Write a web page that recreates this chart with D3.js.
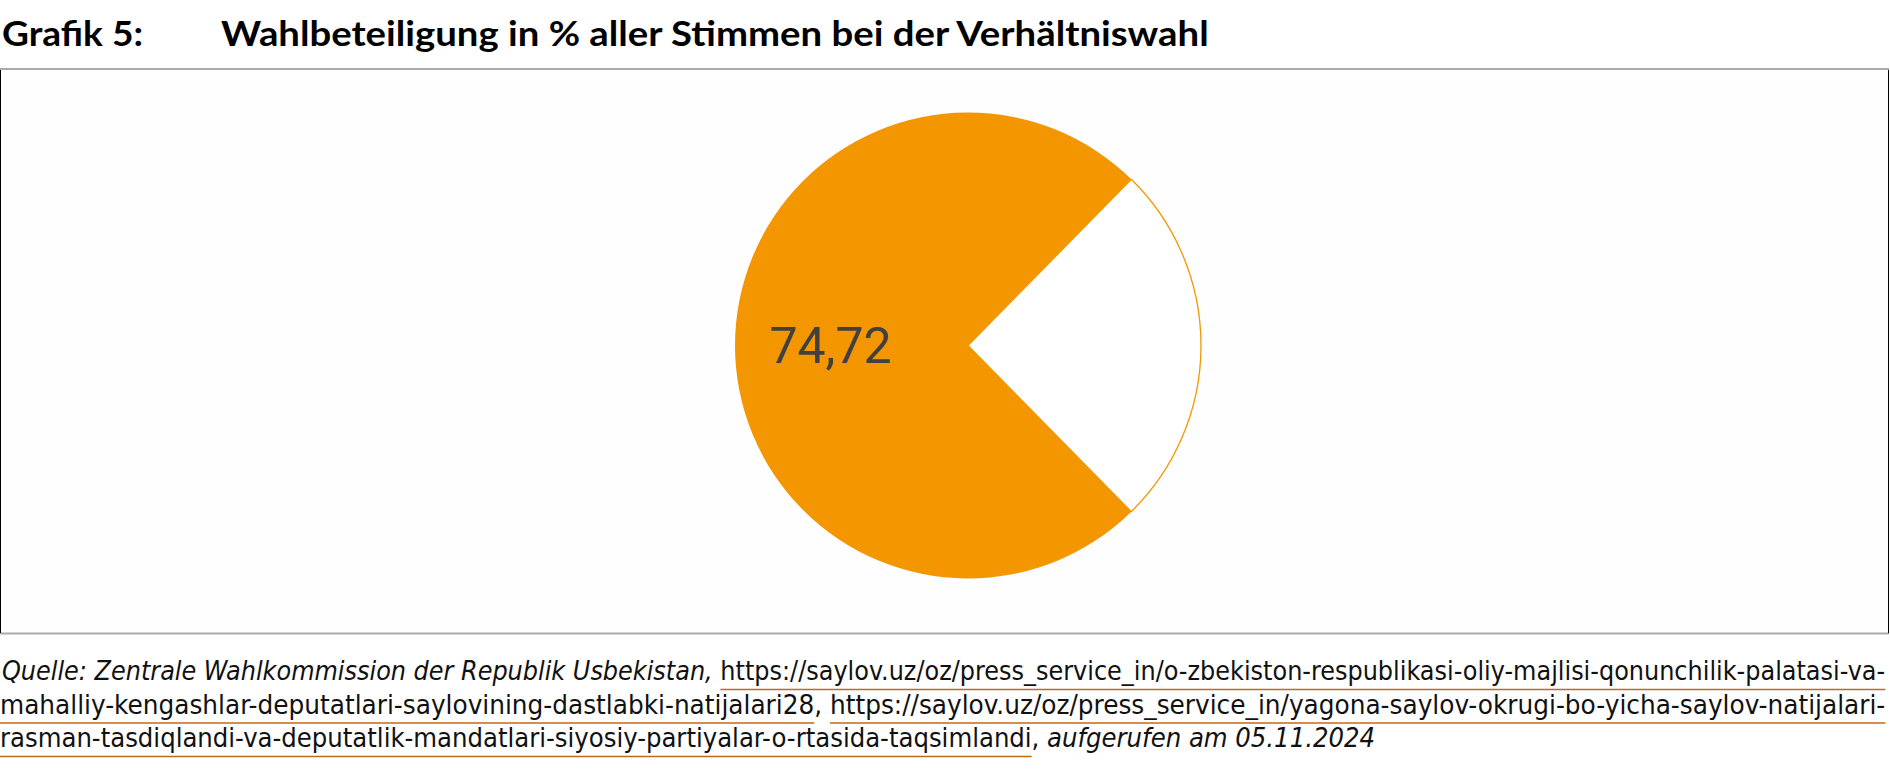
<!DOCTYPE html>
<html>
<head>
<meta charset="utf-8">
<script src="https://cdn.jsdelivr.net/npm/d3@7"></script>
<style>
  html, body { margin: 0; padding: 0; background: #ffffff; }
  svg { display: block; }
</style>
</head>
<body>
<svg id="chart" width="1890" height="770"></svg>
<script>
// ---- data ----
const categories = ["Wahlbeteiligung", "Nichtwähler"];
const values = [74.72, 25.28];
const labels = ["74,72", ""];
const colors = ["#f39600", "#ffffff"];

const titleLabel = "Grafik 5:";
const titleText = "Wahlbeteiligung in % aller Stimmen bei der Verhältniswahl";

const sourceLines = [
  [
    { t: "Quelle: Zentrale Wahlkommission der Republik Usbekistan,", italic: true, link: false },
    { t: " ", italic: false, link: false },
    { t: "https://saylov.uz/oz/press_service_in/o-zbekiston-respublikasi-oliy-majlisi-qonunchilik-palatasi-va-", italic: false, link: true }
  ],
  [
    { t: "mahalliy-kengashlar-deputatlari-saylovining-dastlabki-natijalari28", italic: false, link: true },
    { t: ", ", italic: false, link: false },
    { t: "https://saylov.uz/oz/press_service_in/yagona-saylov-okrugi-bo-yicha-saylov-natijalari-", italic: false, link: true }
  ],
  [
    { t: "rasman-tasdiqlandi-va-deputatlik-mandatlari-siyosiy-partiyalar-o-rtasida-taqsimlandi", italic: false, link: true },
    { t: ", ", italic: false, link: false },
    { t: "aufgerufen am 05.11.2024", italic: true, link: false }
  ]
];

// ---- layout ----
const svg = d3.select("#chart");

// Draw a text inside a group scaled horizontally so it spans [x0, x0+target]
function scaledText(parent, x0, y, target, attrs, build) {
  const g = parent.append("g");
  const t = g.append("text").attr("x", 0).attr("y", 0);
  Object.entries(attrs).forEach(([k, v]) => t.attr(k, v));
  build(t);
  const w = t.node().getComputedTextLength();
  const sx = target / w;
  g.attr("transform", `translate(${x0},${y}) scale(${sx},1)`);
  return { g, t, sx };
}

const titleAttrs = {
  "font-family": "Lato, 'Open Sans', sans-serif",
  "font-weight": 700,
  "font-size": 35,
  "fill": "#000"
};
scaledText(svg, 2, 46, 141, titleAttrs, t => t.text(titleLabel));
scaledText(svg, 221, 46, 1209 - 221, titleAttrs, t => t.text(titleText));

// frame
svg.append("rect").attr("x", 0).attr("y", 69).attr("width", 1889).attr("height", 565).attr("fill", "#fefefe");
svg.append("line").attr("x1", 0).attr("x2", 1889).attr("y1", 69).attr("y2", 69).attr("stroke", "#aaaaaa").attr("stroke-width", 2);
svg.append("line").attr("x1", 0).attr("x2", 1889).attr("y1", 633.5).attr("y2", 633.5).attr("stroke", "#aaaaaa").attr("stroke-width", 2);
svg.append("line").attr("x1", 0.5).attr("x2", 0.5).attr("y1", 70).attr("y2", 633).attr("stroke", "#000").attr("stroke-width", 1);
svg.append("line").attr("x1", 1888.5).attr("x2", 1888.5).attr("y1", 70).attr("y2", 633).attr("stroke", "#000").attr("stroke-width", 1);

// pie
const cx = 968, cy = 345.5, r = 233;
const total = d3.sum(values);
const start = Math.PI / 2 + Math.PI * (values[1] / total);
const pie = d3.pie().sort(null).startAngle(start).endAngle(start + 2 * Math.PI);
const arcs = pie(values);
const arc = d3.arc().innerRadius(0).outerRadius(r);
const labelArc = d3.arc().innerRadius(r * 0.59).outerRadius(r * 0.59);

const g = svg.append("g").attr("transform", `translate(${cx},${cy})`);
g.selectAll("path.slice")
  .data(arcs)
  .join("path")
  .attr("class", "slice")
  .attr("d", arc)
  .attr("fill", (d, i) => colors[i])
  .attr("stroke", (d, i) => i === 1 ? colors[0] : "none")
  .attr("stroke-width", 1.3);

g.selectAll("text.lbl")
  .data(arcs.filter((d, i) => labels[i]))
  .join("text")
  .attr("class", "lbl")
  .attr("transform", d => `translate(${labelArc.centroid(d)})`)
  .attr("dy", "0.35em")
  .attr("text-anchor", "middle")
  .attr("font-family", "Roboto, sans-serif")
  .attr("font-size", 50)
  .attr("fill", "#404040")
  .text((d) => labels[d.index]);

// source lines
const lineBase = [680, 713.5, 747];
const lineStart = [2, 0, 0];
const lineEnd = [1886, 1886, 1376];
const ulColor = "#c06a1e";
const srcAttrs = {
  "font-family": "'Liberation Sans Narrow', 'DejaVu Sans Condensed', 'Open Sans', sans-serif",
  "font-stretch": "condensed",
  "font-size": 27,
  "fill": "#111"
};
sourceLines.forEach((segs, li) => {
  const { t, sx } = scaledText(svg, lineStart[li], lineBase[li], lineEnd[li] - lineStart[li], srcAttrs, t => {
    segs.forEach(s => {
      t.append("tspan").attr("font-style", s.italic ? "italic" : "normal").text(s.t);
    });
  });
  const node = t.node();
  let idx = 0;
  segs.forEach(s => {
    const n = s.t.length;
    if (s.link) {
      const x0 = lineStart[li] + node.getStartPositionOfChar(idx).x * sx;
      const x1 = lineStart[li] + node.getEndPositionOfChar(idx + n - 1).x * sx;
      svg.append("line")
        .attr("x1", x0).attr("x2", x1)
        .attr("y1", lineBase[li] + 9.5).attr("y2", lineBase[li] + 9.5)
        .attr("stroke", ulColor).attr("stroke-width", 1.5);
    }
    idx += n;
  });
});
</script>
</body>
</html>
